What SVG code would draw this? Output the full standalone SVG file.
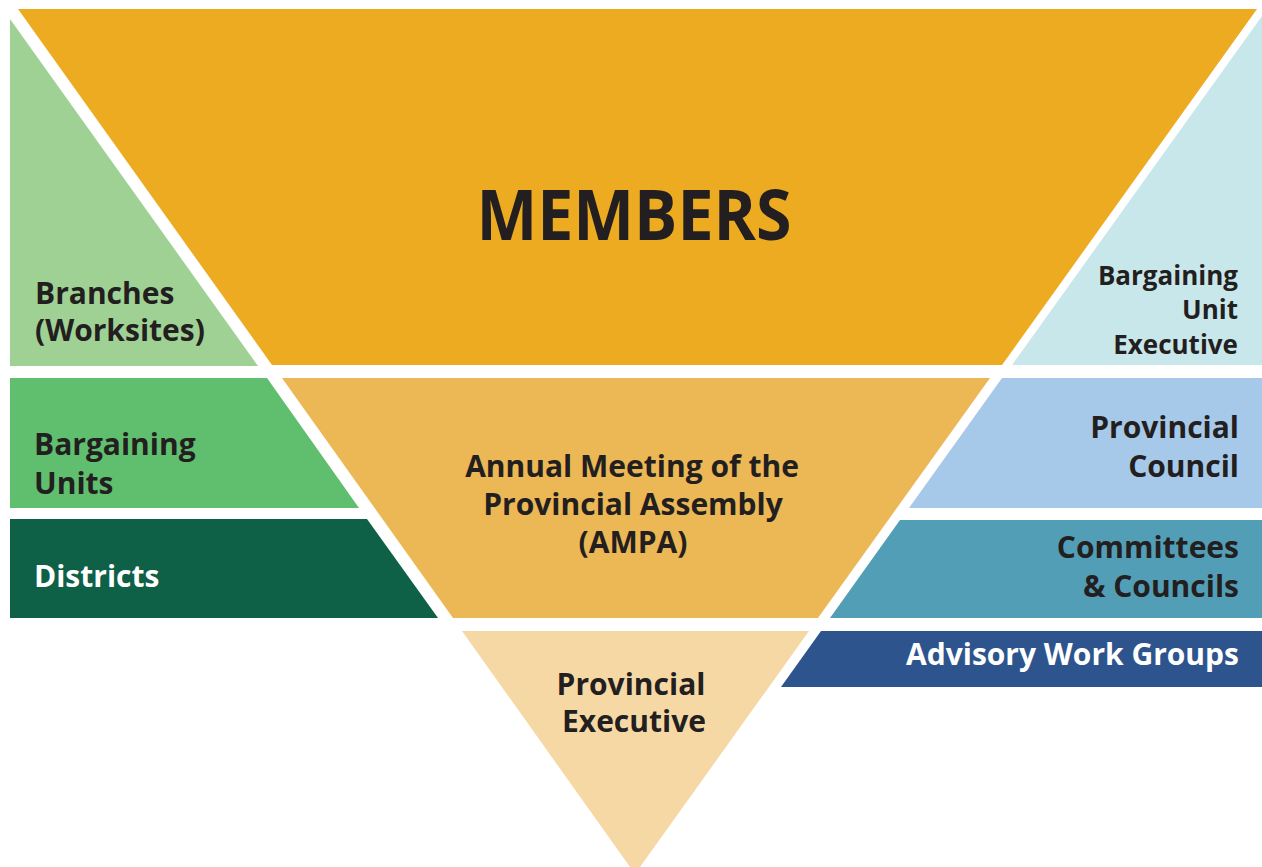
<svg xmlns="http://www.w3.org/2000/svg" width="1262" height="867" viewBox="0 0 1262 867">
  <style>
    .t { font-family: "Open Sans", "Noto Sans", "Liberation Sans", sans-serif; font-weight: 700; font-size: 30px; fill: #231F20; }
    .big { font-size: 70px; }
    .sm { font-size: 26px; }
    .w { fill: #FFFFFF; }
    .r { text-anchor: end; }
    .c { text-anchor: middle; }
  </style>
  <rect x="0" y="0" width="1262" height="867" fill="#FFFFFF"/>

  <g id="members">
    <polygon points="18,9 1257,9 1002,365 272,365" fill="#ECAB20"/>
    <text class="t c big" x="634" y="240" textLength="315" lengthAdjust="spacingAndGlyphs">MEMBERS</text>
  </g>
  <g id="ampa">
    <polygon points="282,378 990,378 818,618 453,618" fill="#ECB755"/>
    <text class="t c" x="632" y="477">Annual Meeting of the</text>
    <text class="t c" x="633" y="515">Provincial Assembly</text>
    <text class="t c" x="633" y="553">(AMPA)</text>
  </g>
  <g id="provincial-executive">
    <polygon points="462,631 809,631 635,874" fill="#F6D8A5"/>
    <text class="t c" x="631" y="695">Provincial</text>
    <text class="t c" x="634" y="732">Executive</text>
  </g>

  <g id="branches">
    <polygon points="10,19 258,366 10,366" fill="#9FD194"/>
    <text class="t" x="35" y="304">Branches</text>
    <text class="t" x="35" y="341">(Worksites)</text>
  </g>
  <g id="bargaining-units">
    <polygon points="10,378 267,378 359,508 10,508" fill="#60BE6F"/>
    <text class="t" x="34" y="455">Bargaining</text>
    <text class="t" x="34" y="494">Units</text>
  </g>
  <g id="districts">
    <polygon points="10,519 367,519 438,618 10,618" fill="#0E6046"/>
    <text class="t w" x="34" y="587">Districts</text>
  </g>

  <g id="bargaining-unit-executive">
    <polygon points="1262,16 1262,365 1012,365" fill="#C8E7EA"/>
    <text class="t r sm" x="1238" y="285">Bargaining</text>
    <text class="t r sm" x="1238" y="319">Unit</text>
    <text class="t r sm" x="1238" y="354">Executive</text>
  </g>
  <g id="provincial-council">
    <polygon points="1002,378 1262,378 1262,508 909,508" fill="#A6C8E9"/>
    <text class="t r" x="1239" y="438">Provincial</text>
    <text class="t r" x="1239" y="477">Council</text>
  </g>
  <g id="committees-councils">
    <polygon points="900,520 1262,520 1262,618 830,618" fill="#539EB7"/>
    <text class="t r" x="1239" y="558">Committees</text>
    <text class="t r" x="1239" y="597">&amp; Councils</text>
  </g>
  <g id="advisory-work-groups">
    <polygon points="821,631 1262,631 1262,687 781,687" fill="#2E548D"/>
    <text class="t r w" x="1239" y="665">Advisory Work Groups</text>
  </g>

  <g id="connectors"></g>
</svg>
